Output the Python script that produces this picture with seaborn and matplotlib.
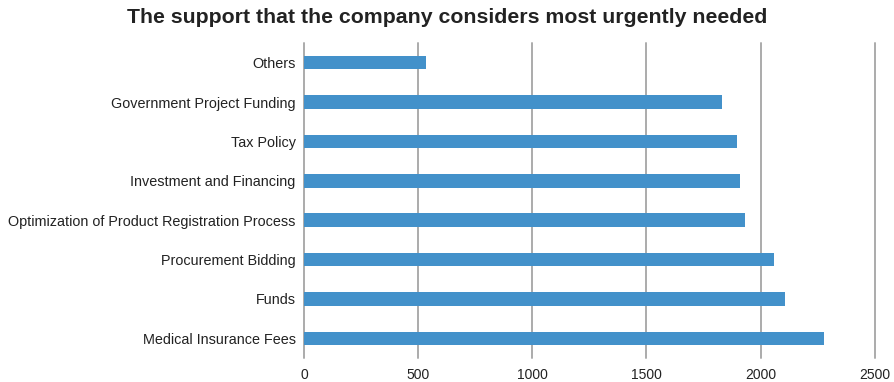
import matplotlib
matplotlib.use("Agg")
import matplotlib.pyplot as plt
import seaborn as sns
import pandas as pd

categories = [
    "Others",
    "Government Project Funding",
    "Tax Policy",
    "Investment and Financing",
    "Optimization of Product Registration Process",
    "Procurement Bidding",
    "Funds",
    "Medical Insurance Fees",
]
counts = [534, 1829, 1899, 1912, 1930, 2061, 2105, 2280]
x_ticks = [0, 500, 1000, 1500, 2000, 2500]

df = pd.DataFrame({"support": categories, "count": counts})

sns.set_theme(style="white")
plt.rcParams["font.family"] = ["Liberation Sans", "DejaVu Sans"]

fig = plt.figure(figsize=(8.94, 3.82), dpi=100)
ax = fig.add_axes([0.34, 0.0628, 0.6384, 0.8246])

sns.barplot(data=df, x="count", y="support", orient="h", color="#4391CA",
            saturation=1, width=0.345, ax=ax, zorder=3, edgecolor="none")

ax.set_xlim(0, 2500)
ax.set_ylim(7.5, -0.5)
ax.set_xticks(x_ticks)
ax.set_xticklabels([str(t) for t in x_ticks])
for t in x_ticks:
    ax.axvline(t, color="#ABABAB", lw=1.4, zorder=1, clip_on=False)

for s in ax.spines.values():
    s.set_visible(False)
ax.tick_params(axis="both", length=0, colors="#222222")
ax.tick_params(axis="y", labelsize=10.4, pad=6)
ax.tick_params(axis="x", labelsize=10, pad=7)
ax.set_xlabel("")
ax.set_ylabel("")

fig.text(0.5, 0.955, "The support that the company considers most urgently needed",
         ha="center", va="center", fontsize=15.3, fontweight="bold", color="#222222")

fig.savefig("out.png", dpi=100)
